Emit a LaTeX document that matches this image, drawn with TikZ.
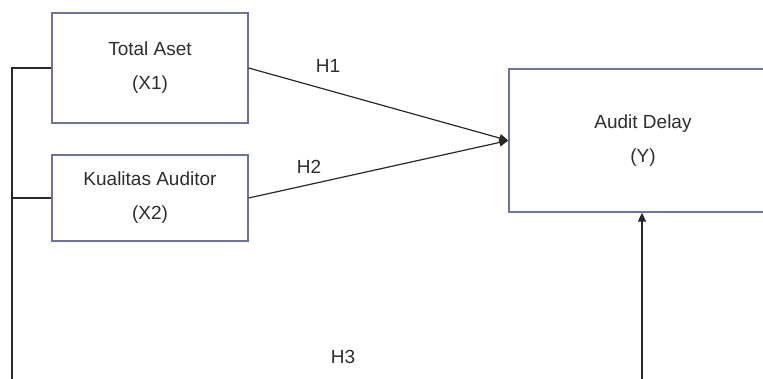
\documentclass[tikz,border=0pt]{standalone}
\usepackage{fontspec}
\setmainfont{Liberation Sans}
\usetikzlibrary{arrows.meta}
\definecolor{boxline}{RGB}{108,116,158}
\definecolor{conline}{RGB}{40,40,40}
\definecolor{txt}{RGB}{45,45,45}
\begin{document}
\begin{tikzpicture}[x=1pt,y=-1pt,
  varbox/.style={draw=boxline,line width=1.3pt,fill=white,inner sep=0pt,
    text=txt,align=center,font=\fontsize{19}{34}\selectfont},
  conn/.style={draw=conline,line width=1.2pt},
  arr/.style={conn,-{Triangle[length=9pt,width=8pt]}},
  lbl/.style={text=txt,font=\fontsize{19}{22}\selectfont,inner sep=0pt}]
\useasboundingbox (0,0) rectangle (763,379);
\node[varbox,minimum width=196pt,minimum height=110pt] (x1) at (150,68) {Total Aset\\(X1)};
\node[varbox,minimum width=196pt,minimum height=86pt] (x2) at (150,198) {Kualitas Auditor\\(X2)};
\node[varbox,minimum width=268pt,minimum height=143pt] (y) at (643,140.5) {Audit Delay\\(Y)};
\coordinate (bl) at (12,400);
\coordinate (br) at (642,400);
\draw[arr] (x1.east) -- (y.west);
\draw[arr] (x2.east) -- (y.west);
\draw[conn] (x2.west) -- (12,198);
\draw[arr] (x1.west) -- (12,68) -- (bl) -- (br) -- (y.south -| br);
\node[lbl] (h1) at (328,66) {H1};
\node[lbl] (h2) at (309,167) {H2};
\node[lbl] (h3) at (343,357) {H3};
\end{tikzpicture}
\end{document}
